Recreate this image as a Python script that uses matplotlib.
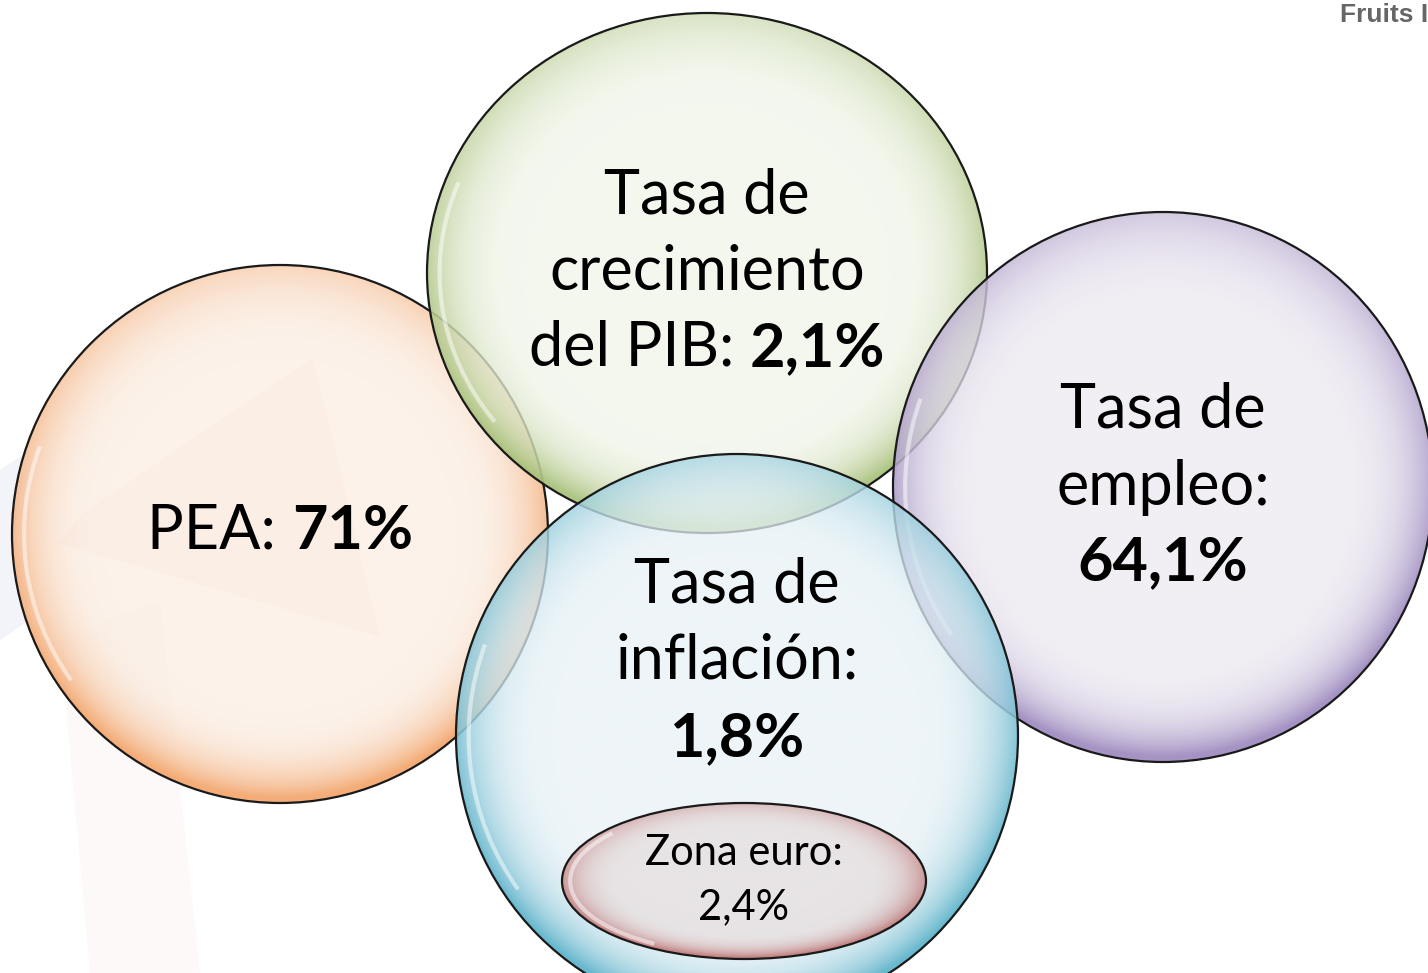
import numpy as np
import matplotlib
matplotlib.use("Agg")
import matplotlib.pyplot as plt
from matplotlib.patches import Ellipse, Arc, Polygon

# --- content (same order as the bubbles below) ---------------------------
labels = [
    [[("PEA: ", "normal"), ("71%", "bold")]],
    [[("Tasa de", "normal")], [("crecimiento", "normal")],
     [("del PIB: ", "normal"), ("2,1%", "bold")]],
    [[("Tasa de", "normal")], [("empleo:", "normal")], [("64,1%", "bold")]],
    [[("Tasa de", "normal")], [("inflación:", "normal")], [("1,8%", "bold")]],
    [[("Zona euro:", "normal")], [("2,4%", "normal")]],
]

# --- layout (pixels) -----------------------------------------------------
# cx, cy, rx, ry
bubbles = [
    (280, 534, 268, 269),    # PEA
    (707, 273, 280, 260),    # PIB
    (1163, 487, 270, 275),   # empleo
    (737, 736, 281, 282),    # inflación
    (744, 881, 182, 78),     # zona euro
]
inner_cols = ["#fbeee3", "#f1f5e9", "#ece8f1", "#e8f2f7", "#e6dede"]
rim_cols = ["#f4a870", "#a9c27c", "#9f8cc0", "#5fb4cb", "#c27a7a"]
text_y = [[531], [196, 272, 348], [410, 487, 562], [585, 661, 738], [853, 907]]
text_size = [44, 44, 44, 44, 30]

W, H = 1428, 973
fig = plt.figure(figsize=(W / 100, H / 100), dpi=100)
ax = fig.add_axes([0, 0, 1, 1])
ax.set_xlim(0, W)
ax.set_ylim(H, 0)
ax.axis("off")

# faint background logo shapes
ax.add_patch(Polygon([(83, 513), (313, 358), (380, 637), (58, 543)],
                     closed=True, fc="#e8a090", ec="none", alpha=0.15, zorder=0))
ax.add_patch(Polygon([(0, 470), (30, 450), (30, 620), (0, 640)],
                     closed=True, fc="#9aa6d0", ec="none", alpha=0.12, zorder=0))
ax.add_patch(Polygon([(60, 640), (160, 600), (200, 973), (90, 973)],
                     closed=True, fc="#e8a090", ec="none", alpha=0.06, zorder=0))


def hex2rgb(h):
    return np.array([int(h[i:i + 2], 16) / 255 for i in (1, 3, 5)])


def bubble(cx, cy, rx, ry, inner, rim, z):
    n = 400
    xs = np.linspace(cx - rx, cx + rx, n)
    ys = np.linspace(cy - ry, cy + ry, n)
    X, Y = np.meshgrid(xs, ys)
    r = np.sqrt(((X - cx) / rx) ** 2 + ((Y - cy) / ry) ** 2)
    t = np.clip((r - 0.66) / 0.34, 0, 1) ** 2.4
    # a bit darker towards the bottom
    t = np.clip(t * (0.8 + 0.35 * (Y - cy) / ry), 0, 1)
    c0, c1 = hex2rgb(inner), hex2rgb(rim)
    img = np.zeros((n, n, 4))
    for k in range(3):
        img[..., k] = c0[k] * (1 - t) + c1[k] * t
    img[..., 3] = 0.74 + 0.2 * t
    im = ax.imshow(img, extent=(cx - rx, cx + rx, cy + ry, cy - ry),
                   origin="upper", interpolation="bilinear", zorder=z)
    clip = Ellipse((cx, cy), 2 * rx, 2 * ry, fc="none", ec="none",
                   transform=ax.transData)
    ax.add_patch(clip)
    im.set_clip_path(clip)
    # glossy highlight on the upper left
    ax.add_patch(Arc((cx, cy), 2 * rx * 0.955, 2 * ry * 0.94, theta1=145,
                     theta2=200, color="white", lw=3, alpha=0.5, zorder=z + 0.1))
    ax.add_patch(Ellipse((cx, cy), 2 * rx, 2 * ry, fc="none", ec="#1a1a1a",
                         lw=1.6, zorder=z + 0.2))


for i, (cx, cy, rx, ry) in enumerate(bubbles):
    bubble(cx, cy, rx, ry, inner_cols[i], rim_cols[i], 2 + i)

fig.canvas.draw()
renderer = fig.canvas.get_renderer()
font = "Lato"

for i, lines in enumerate(labels):
    cx = bubbles[i][0]
    for line, y in zip(lines, text_y[i]):
        objs = []
        for s, w in line:
            objs.append(ax.text(0, y, s, fontsize=text_size[i], fontweight=w,
                                family=font, va="center", ha="left",
                                color="black", zorder=20))
        widths = [o.get_window_extent(renderer).width for o in objs]
        x = cx - sum(widths) / 2
        for o, wd in zip(objs, widths):
            o.set_x(x)
            x += wd

ax.text(1340, 15, "Fruits I", fontsize=19, fontweight="bold",
        family="Liberation Sans", color="#666666", va="center", ha="left")

fig.savefig("out.png", dpi=100)
